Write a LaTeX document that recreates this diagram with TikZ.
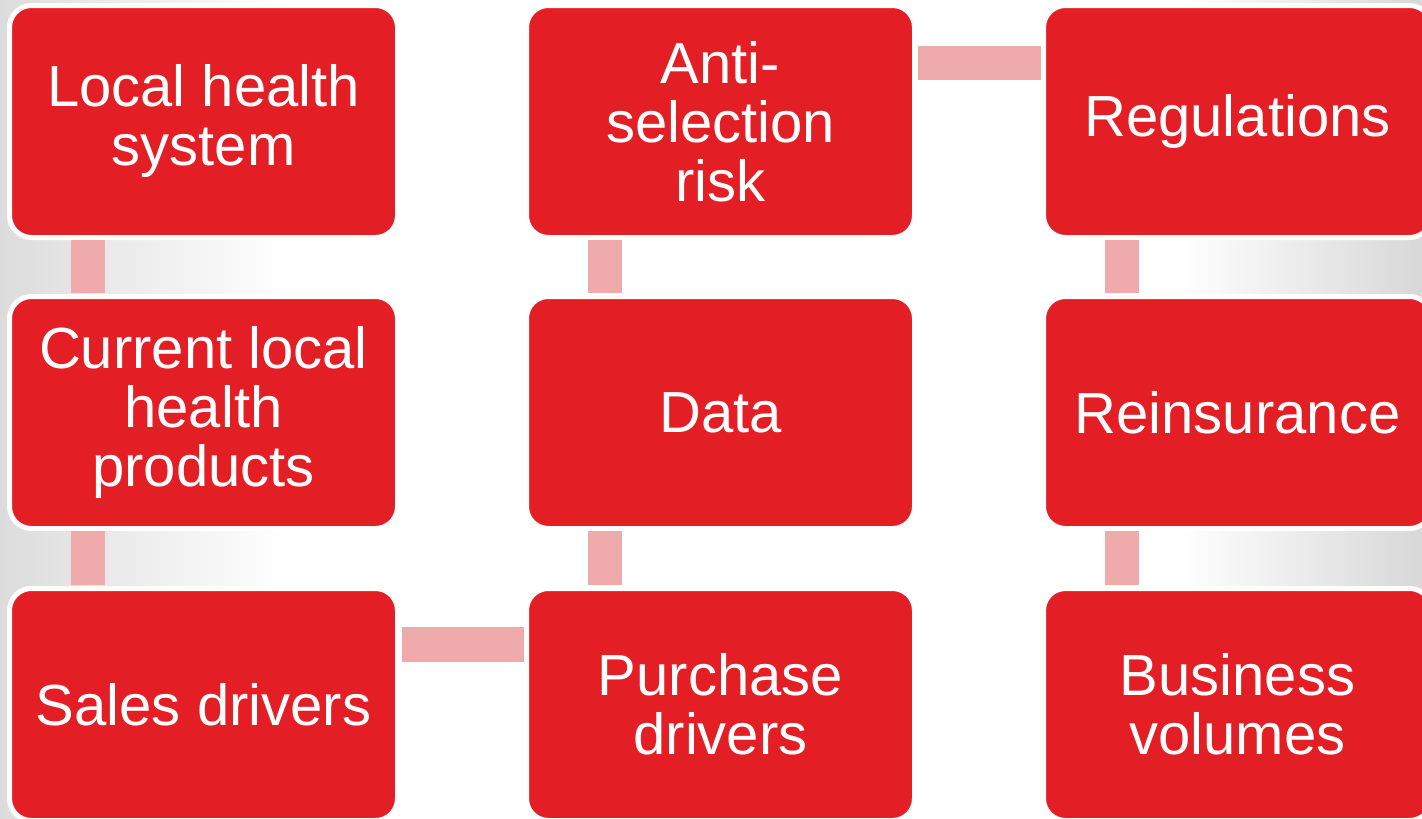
\documentclass[tikz,border=0pt]{standalone}
\usepackage{fontspec}
\setmainfont{Liberation Sans}
\definecolor{boxred}{RGB}{227,30,36}
\definecolor{linkpink}{RGB}{239,171,171}
\definecolor{edgegray}{RGB}{220,220,220}
\begin{document}
\begin{tikzpicture}[x=1pt,y=-1pt,
  topic/.style={rectangle, rounded corners=22pt, fill=boxred, draw=white,
    line width=5pt, minimum width=388pt, minimum height=232pt,
    inner sep=0pt, outer sep=0pt, text=white, align=center,
    font=\fontsize{58pt}{59pt}\selectfont},
  link/.style={draw=linkpink, line width=34.5pt, line cap=butt}]
  % page and side shading
  \useasboundingbox (0,0) rectangle (1422,819);
  \fill[white] (0,0) rectangle (1422,819);
  \shade[left color=edgegray, right color=white] (0,0) rectangle (285,819);
  \shade[left color=white, right color=edgegray!98!black] (1180,0) rectangle (1422,819);

  % topics, three columns of three
  \node[topic] (lhs)  at (203.5,121.5) {Local health\\system};
  \node[topic] (clhp) at (203.5,412.5) {Current local\\health\\products};
  \node[topic] (sd)   at (203.5,704.5) {Sales drivers};
  \node[topic] (asr)  at (720.5,121.5) {Anti-\\selection\\risk};
  \node[topic] (data) at (720.5,412.5) {Data};
  \node[topic] (pd)   at (720.5,704.5) {Purchase\\drivers};
  \node[topic] (reg)  at (1237.5,121.5) {Regulations};
  \node[topic] (rein) at (1237.5,412.5) {Reinsurance};
  \node[topic] (bv)   at (1237.5,704.5) {Business\\volumes};

  % vertical links
  \foreach \a/\b in {lhs/clhp, clhp/sd, asr/data, data/pd, reg/rein, rein/bv}
    \draw[link] ([xshift=78.5pt,yshift=-2.5pt]\a.south west)
             -- ([xshift=78.5pt,yshift=3.5pt]\b.north west);

  % horizontal links
  \draw[link] ([xshift=4pt,yshift=-56pt]sd.north east)
           -- ([xshift=-2.5pt,yshift=-56pt]pd.north west);
  \draw[link] ([xshift=3.5pt,yshift=-57.5pt]asr.north east)
           -- ([xshift=-2.5pt,yshift=-57.5pt]reg.north west);
\end{tikzpicture}
\end{document}
